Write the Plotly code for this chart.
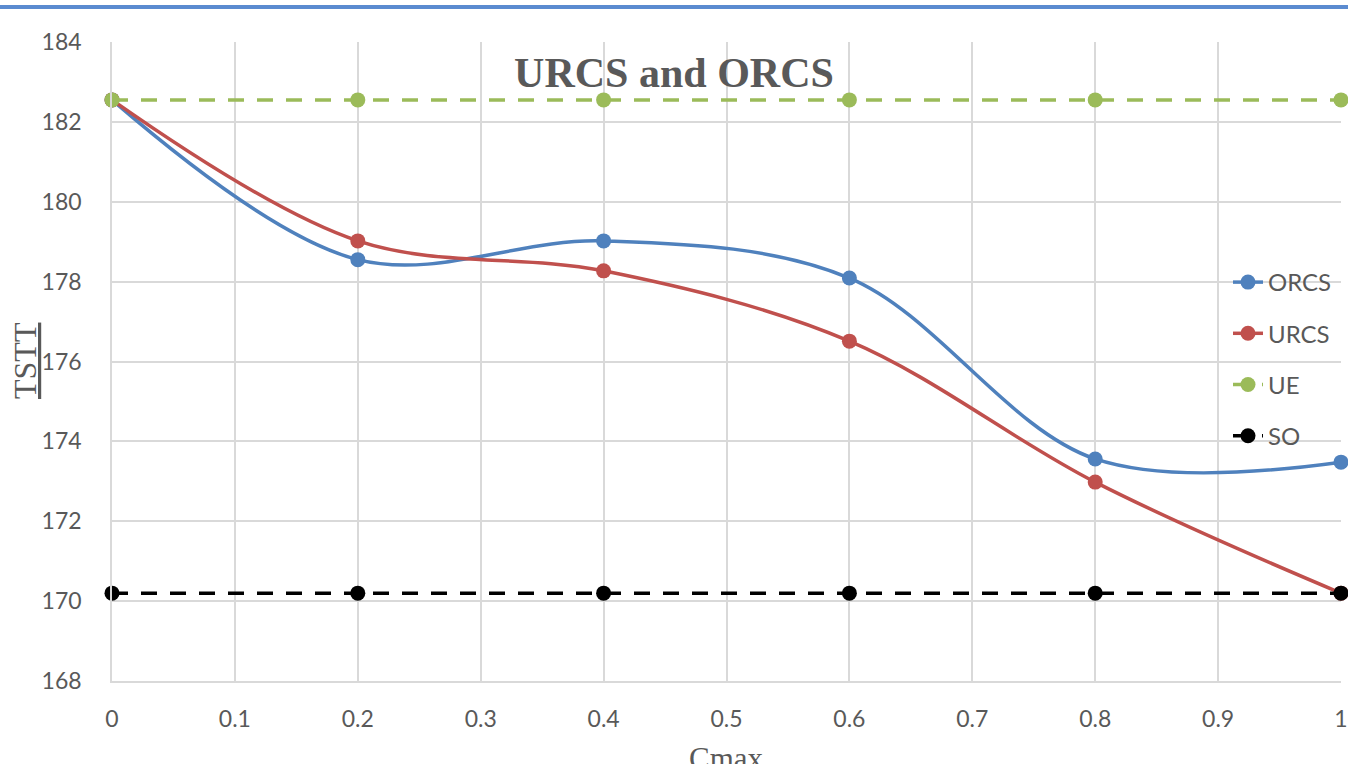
import plotly.graph_objects as go

cmax = [0, 0.2, 0.4, 0.6, 0.8, 1.0]
orcs = [182.55, 178.55, 179.02, 178.09, 173.56, 173.48]
urcs = [182.55, 179.02, 178.27, 176.51, 172.98, 170.20]
ue = [182.55, 182.55, 182.55, 182.55, 182.55, 182.55]
so = [170.20, 170.20, 170.20, 170.20, 170.20, 170.20]

x_ticks = [0, 0.1, 0.2, 0.3, 0.4, 0.5, 0.6, 0.7, 0.8, 0.9, 1]
x_tick_text = ["0", "0.1", "0.2", "0.3", "0.4", "0.5", "0.6", "0.7", "0.8", "0.9", "1"]
y_ticks = [168, 170, 172, 174, 176, 178, 180, 182, 184]

W, H = 1348, 764
ML, MR, MT, MB = 112, 7, 42, 83
PW, PH = W - ML - MR, H - MT - MB

fig = go.Figure()
series = [
    ("ORCS", orcs, "#4f81bd", "solid", "spline", 3.5),
    ("URCS", urcs, "#c0504d", "solid", "spline", 3.5),
    ("UE", ue, "#9bbb59", "16px,13px", "linear", 3.5),
    ("SO", so, "#000000", "16px,13px", "linear", 3.5),
]
for name, vals, col, dash, shape, lw in series:
    fig.add_trace(go.Scatter(
        x=cmax, y=vals, name=name, mode="lines+markers",
        line=dict(color=col, width=lw, dash=dash, shape=shape, smoothing=1),
        marker=dict(color=col, size=15),
        legendgroup=name,
        cliponaxis=False,
    ))

sans = "Lato, Open Sans, sans-serif"
serif = "Liberation Serif, Times New Roman, serif"
tick_font = dict(family=sans, size=23, color="#595959")
fig.update_layout(
    width=W, height=H,
    margin=dict(l=ML, r=MR, t=MT, b=MB, pad=0, autoexpand=False),
    paper_bgcolor="white", plot_bgcolor="white",
    title=dict(text="<b>URCS and ORCS</b>", xref="container", x=0.5, xanchor="center",
               yref="container", y=1 - 72 / H, yanchor="middle",
               font=dict(family=serif, size=42, color="#595959")),
    xaxis=dict(range=[0, 1], tickvals=x_ticks, ticktext=x_tick_text, showgrid=True,
               gridcolor="#d9d9d9", gridwidth=1.5, zeroline=False, showline=True,
               linecolor="#d9d9d9", linewidth=1.5, ticks="", tickfont=tick_font, ticklabelstandoff=17,
               automargin=False),
    yaxis=dict(range=[168, 184], tickvals=y_ticks, showgrid=True, gridcolor="#d9d9d9", gridwidth=1.5,
               zeroline=False, showline=True, linecolor="#d9d9d9", linewidth=1.5, ticks="",
               tickfont=tick_font, ticklabelstandoff=24, automargin=False),
    legend=dict(x=(1228 - ML) / PW, xanchor="left",
                y=(H - MB - 260) / PH, yanchor="top",
                bgcolor="rgba(0,0,0,0)", tracegroupgap=17, traceorder="grouped",
                font=dict(family=sans, size=24, color="#595959")),
    showlegend=True,
)

# axis titles placed as annotations (the reference crops "Cmax" at the bottom edge)
fig.add_annotation(text="Cmax", xref="paper", yref="paper", x=0.5, xanchor="center",
                   y=-(758 - (H - MB)) / PH, yanchor="middle",
                   showarrow=False, font=dict(family=serif, size=31, color="#595959"))
fig.add_annotation(text="<u>TSTT</u>", xref="paper", yref="paper", x=-(ML - 25) / PW, xanchor="center",
                   y=(H - MB - 361) / PH, yanchor="middle", textangle=-90,
                   showarrow=False, font=dict(family=serif, size=32, color="#595959"))

# thin blue rule across the top of the picture
fig.add_shape(type="line", xref="paper", yref="paper",
              x0=-ML / PW, x1=1 + MR / PW,
              y0=1 + (MT - 7) / PH, y1=1 + (MT - 7) / PH,
              line=dict(color="#5b8bd0", width=4))

fig.write_html("out.html")
